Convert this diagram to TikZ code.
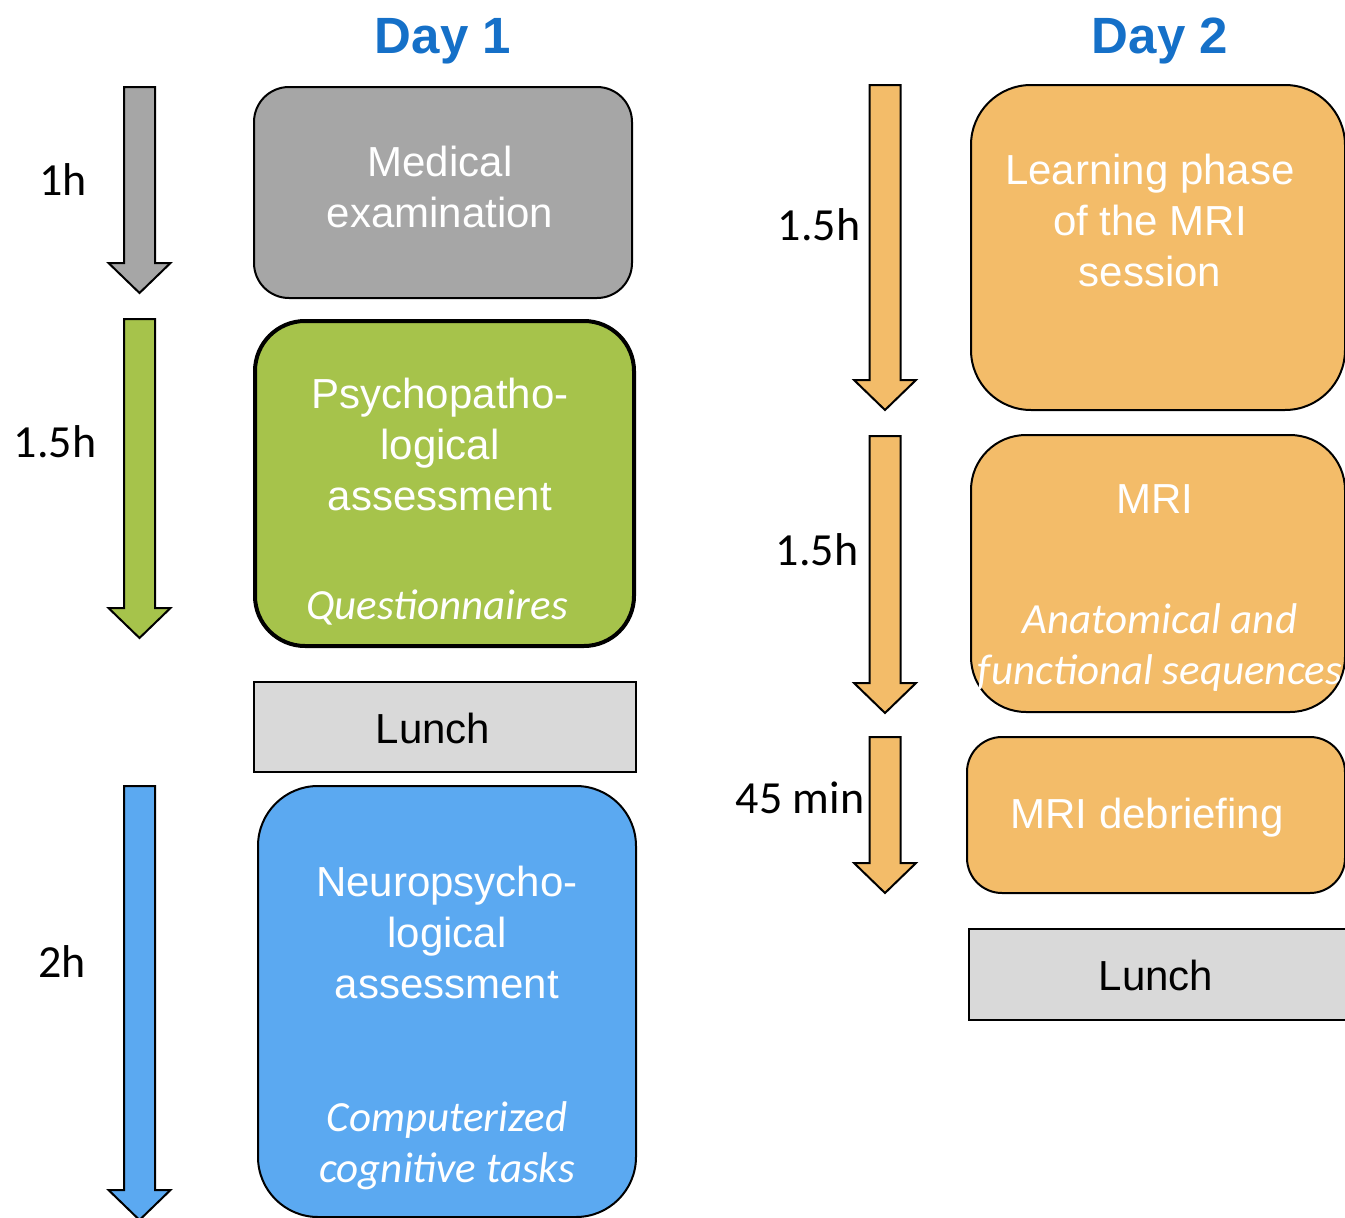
\documentclass[tikz,border=0pt]{standalone}
\usepackage{fontspec}
\setmainfont{Liberation Sans}
\newfontfamily\calibri{Carlito}
\usepackage{tikz}
\definecolor{dayblue}{HTML}{1570C8}
\definecolor{medgray}{HTML}{A6A6A6}
\definecolor{psygreen}{HTML}{A6C34B}
\definecolor{neuroblue}{HTML}{5BA9F1}
\definecolor{mriorange}{HTML}{F3BC69}
\definecolor{lunchgray}{HTML}{D9D9D9}
\tikzstyle{stage} = [rectangle, draw, line width=2pt, inner sep=0pt]
\tikzstyle{lunchbox} = [rectangle, draw, fill=lunchgray, line width=1.5pt, inner sep=0pt]
\tikzstyle{boxtext} = [text=white, align=center, inner sep=0pt, font=\fontsize{42}{51}\selectfont]
\tikzstyle{notetext} = [text=white, align=center, inner sep=0pt, font=\calibri\itshape\fontsize{43}{51}\selectfont]
\tikzstyle{duration} = [inner sep=0pt, font=\calibri\fontsize{46}{50}\selectfont]
\tikzstyle{dayhead} = [inner sep=0pt, text=dayblue, font=\bfseries\fontsize{51}{60}\selectfont]
\tikzstyle{timearrow} = [draw, line width=2pt, line join=miter]
\newcommand{\durationarrow}[4]{\draw [timearrow, fill=#1] (#2-15.5,#3) -- (#2+15.5,#3) -- (#2+15.5,#4-30) -- (#2+31,#4-30) -- (#2,#4) -- (#2-31,#4-30) -- (#2-15.5,#4-30) -- cycle;}
\begin{document}
\begin{tikzpicture}[x=1pt, y=-1pt, node distance=0pt]
        \useasboundingbox (0,0) rectangle (1345,1218);
        \clip (0,0) rectangle (1345,1218);
        \node (day-1) [dayhead] at (443,41) {Day 1};
        \node (day-2) [dayhead] at (1160,41) {Day 2};
        \node (medical) [stage, fill=medgray, rounded corners=35pt, minimum width=378pt, minimum height=211pt] at (443,192.5) {};
        \node (psycho) [stage, fill=psygreen, line width=4pt, rounded corners=50pt, minimum width=379pt, minimum height=325pt, below of = medical, xshift=1.5pt, yshift=-291pt] {};
        \node (lunch-1) [lunchbox, minimum width=382pt, minimum height=90pt, below of = psycho, xshift=0.5pt, yshift=-243.5pt] {};
        \node (neuro) [stage, fill=neuroblue, rounded corners=60pt, minimum width=378pt, minimum height=431pt, below of = lunch-1, xshift=2pt, yshift=-274.5pt] {};
        \node (learning) [stage, fill=mriorange, rounded corners=60pt, minimum width=374pt, minimum height=325pt] at (1158,247.5) {};
        \node (mri) [stage, fill=mriorange, rounded corners=55pt, minimum width=374pt, minimum height=277pt, below of = learning, yshift=-326pt] {};
        \node (debriefing) [stage, fill=mriorange, rounded corners=35pt, minimum width=378pt, minimum height=156pt, below of = mri, xshift=-2pt, yshift=-241.5pt] {};
        \node (lunch-2) [lunchbox, minimum width=381pt, minimum height=91pt, below of = debriefing, xshift=3.5pt, yshift=-159.5pt] {};
        \node (medical-title) [boxtext] at (440,186.5) {Medical\\examination};
        \node (psycho-title) [boxtext] at (440,444) {Psychopatho-\\logical\\assessment};
        \node (psycho-note) [notetext] at (437,607) {Questionnaires};
        \node (lunch-1-title) [boxtext, text=black] at (433,728) {Lunch};
        \node (neuro-title) [boxtext] at (447,932.5) {Neuropsycho-\\logical\\assessment};
        \node (neuro-note) [notetext] at (447,1146) {Computerized\\cognitive tasks};
        \node (learning-title) [boxtext] at (1150,220) {Learning phase\\of the MRI\\session};
        \node (mri-title) [boxtext] at (1155,499) {MRI};
        \node (mri-note) [notetext] at (1160,647.5) {Anatomical and\\functional sequences};
        \node (debriefing-title) [boxtext] at (1147,818) {MRI debriefing};
        \node (lunch-2-title) [boxtext, text=black] at (1156,975) {Lunch};
        \durationarrow{medgray}{139.5}{87}{293}
        \durationarrow{psygreen}{139.5}{319}{638}
        \durationarrow{neuroblue}{139.5}{786}{1220}
        \durationarrow{mriorange}{885}{85}{410}
        \durationarrow{mriorange}{885}{436}{713}
        \durationarrow{mriorange}{885}{737}{893}
        \node (time-medical) [duration] at (63,180) {1h};
        \node (time-psycho) [duration] at (55,442) {1.5h};
        \node (time-neuro) [duration] at (62,962) {2h};
        \node (time-learning) [duration] at (819,225) {1.5h};
        \node (time-mri) [duration] at (817,550) {1.5h};
        \node (time-debriefing) [duration] at (800,798) {45 min};
    \end{tikzpicture}
\end{document}
